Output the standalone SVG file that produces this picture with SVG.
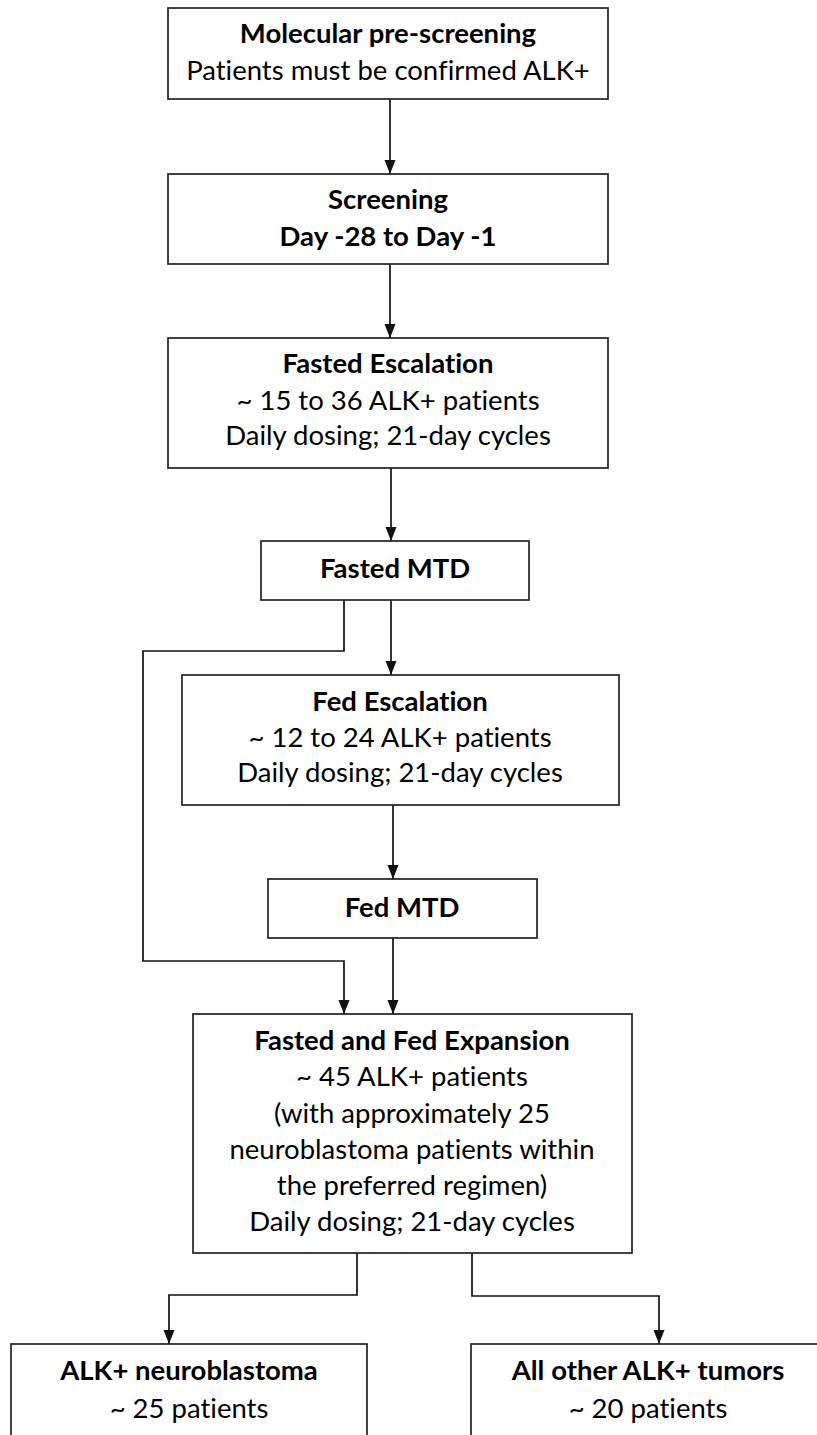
<svg xmlns="http://www.w3.org/2000/svg" width="817" height="1435" viewBox="0 0 817 1435">
<defs>
<marker id="arr" markerUnits="userSpaceOnUse" markerWidth="14" markerHeight="14" viewBox="0 0 14 14" refX="14" refY="7" orient="auto">
<path d="M0,1.5 L14,7 L0,12.5 Z" fill="#111"/>
</marker>
<style>
.box{fill:#fff;stroke:#222;stroke-width:1.7}
.c{fill:none;stroke:#111;stroke-width:1.7;marker-end:url(#arr)}
text{font-family:Lato,"Open Sans","Liberation Sans",sans-serif;font-size:27.5px;fill:#000;text-anchor:middle;font-variant-ligatures:none}
.b{font-weight:bold}
</style>
</defs>
<rect width="817" height="1435" fill="#fff"/>
<g id="connectors">
<path class="c" d="M390,99 V174"/>
<path class="c" d="M390,264 V338"/>
<path class="c" d="M391,468 V541"/>
<path class="c" d="M391,600 V675"/>
<path class="c" d="M344,600 V651 H143 V961 H344 V1014"/>
<path class="c" d="M393,805 V879"/>
<path class="c" d="M393,938 V1014"/>
<path class="c" d="M357,1253 V1295 H169 V1344"/>
<path class="c" d="M472,1253 V1296 H659 V1344"/>
</g>
<g id="n1">
<rect class="box" x="168" y="8" width="440" height="91"/>
<text class="b" x="388" y="43">Molecular pre-screening</text>
<text x="388" y="80">Patients must be confirmed ALK+</text>
</g>
<g id="n2">
<rect class="box" x="168" y="174" width="440" height="90"/>
<text class="b" x="388" y="209">Screening</text>
<text class="b" x="388" y="246">Day -28 to Day -1</text>
</g>
<g id="n3">
<rect class="box" x="168" y="338" width="440" height="130"/>
<text class="b" x="388" y="373">Fasted Escalation</text>
<text x="388" y="410">~ 15 to 36 ALK+ patients</text>
<text x="388" y="445">Daily dosing; 21-day cycles</text>
</g>
<g id="n4">
<rect class="box" x="261" y="541" width="268" height="59"/>
<text class="b" x="395" y="578">Fasted MTD</text>
</g>
<g id="n5">
<rect class="box" x="182" y="675" width="437" height="130"/>
<text class="b" x="400" y="711">Fed Escalation</text>
<text x="400" y="747">~ 12 to 24 ALK+ patients</text>
<text x="400" y="782">Daily dosing; 21-day cycles</text>
</g>
<g id="n6">
<rect class="box" x="268" y="879" width="269" height="59"/>
<text class="b" x="402" y="917">Fed MTD</text>
</g>
<g id="n7">
<rect class="box" x="193" y="1014" width="439" height="239"/>
<text class="b" x="412" y="1050">Fasted and Fed Expansion</text>
<text x="412" y="1086">~ 45 ALK+ patients</text>
<text x="412" y="1123">(with approximately 25</text>
<text x="412" y="1159">neuroblastoma patients within</text>
<text x="412" y="1195">the preferred regimen)</text>
<text x="412" y="1231">Daily dosing; 21-day cycles</text>
</g>
<g id="n8">
<rect class="box" x="11" y="1344" width="356" height="110"/>
<text class="b" x="189" y="1380">ALK+ neuroblastoma</text>
<text x="189" y="1418">~ 25 patients</text>
</g>
<g id="n9">
<rect class="box" x="471" y="1344" width="354" height="110"/>
<text class="b" x="648" y="1380">All other ALK+ tumors</text>
<text x="648" y="1418">~ 20 patients</text>
</g>
</svg>
